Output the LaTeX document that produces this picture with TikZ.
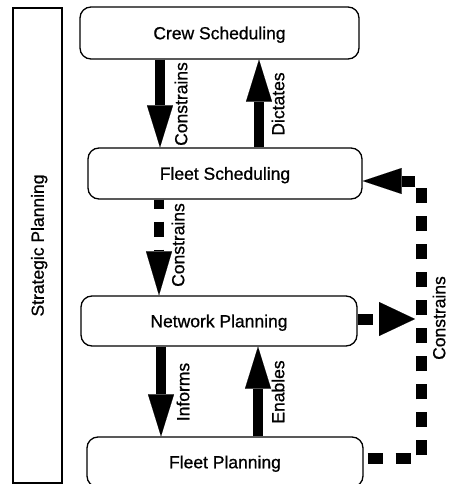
\documentclass[tikz,border=0pt]{standalone}
\usepackage{fontspec}
\setmainfont{Liberation Sans}
\newfontfamily\medfont{Liberation Sans}[FakeBold=0.8]
\usetikzlibrary{arrows.meta}
\begin{document}
\begin{tikzpicture}[x=1pt,y=-1pt,
  txt/.style={font=\medfont\fontsize{17.5}{20}\selectfont, text height=12.5pt, text depth=0pt, inner sep=0pt},
  box/.style={txt, draw=black, line width=1.3pt, rounded corners=11pt},
  sidebox/.style={txt, draw=black, line width=1.3pt, rotate=90},
  lbl/.style={txt, rotate=90},
  bigarrow/.style={line width=10pt, -{Triangle[width=26pt,length=42pt,line width=0.1pt]}},
  dasharrow/.style={line width=10pt, dash pattern=on 15pt off 13pt, -{Triangle[width=26pt,length=44pt,line width=0.1pt]}},
  rightpath/.style={line width=11pt, dash pattern=on 15pt off 13pt},
]
\useasboundingbox (0,0) rectangle (448,484);
\clip (0,0) rectangle (448,484);

\node[sidebox, minimum width=475pt, minimum height=49pt] (sp) at (37.5,245.5) {Strategic Planning};
\node[box, minimum width=279pt, minimum height=52pt] (cs) at (219.5,33) {Crew Scheduling};
\node[box, minimum width=274pt, minimum height=51pt] (fs) at (225,173.5) {Fleet Scheduling};
\node[box, minimum width=276pt, minimum height=50pt] (np) at (219,321) {Network Planning};
\node[box, minimum width=276pt, minimum height=50pt] (fp) at (225,462) {Fleet Planning};

\draw[bigarrow] (160,0 |- cs.south) -- (160,0 |- fs.north);
\draw[bigarrow] (259,0 |- fs.north) -- (259,0 |- cs.south);
\draw[dasharrow, dash phase=6pt] (159,0 |- fs.south) -- (159,0 |- np.north);
\draw[bigarrow] (161,0 |- np.south) -- (161,0 |- fp.north);
\draw[bigarrow] (258,0 |- fp.north) -- (258,0 |- np.south);

\coordinate (c1) at (421,458);
\coordinate (c2) at (421,181);
\coordinate (c3) at (415,319);
\draw[rightpath, dash phase=24pt, -{Triangle[width=26pt,length=39pt,line width=0.1pt]}]
  (fp.east |- c1) -- (c1) -- (c2) -- (fs.east |- c2);
\draw[rightpath, -{Triangle[width=34pt,length=36pt,line width=0.1pt]}]
  (np.east |- c3) -- (c3);

\node[lbl] (l1) at (181,104) {Constrains};
\node[lbl] (l2) at (278,104) {Dictates};
\node[lbl] (l3) at (178,245) {Constrains};
\node[lbl] (l4) at (183,392) {Informs};
\node[lbl] (l5) at (278,392) {Enables};
\node[lbl] (l6) at (439,318) {Constrains};
\end{tikzpicture}
\end{document}
